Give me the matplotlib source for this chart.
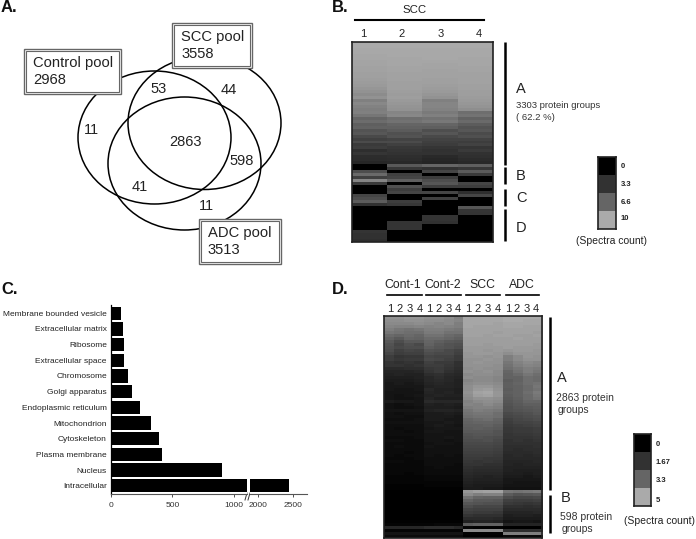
import numpy as np
import matplotlib
matplotlib.use('Agg')
import matplotlib.pyplot as plt
from matplotlib.colors import LinearSegmentedColormap
from matplotlib.patches import Ellipse, Rectangle

plt.rcParams['font.family'] = ['Liberation Sans', 'DejaVu Sans']

W, H = 696, 539

# panel A
venn_counts = ['11', '53', '44', '2863', '598', '41', '11']
pool_names = ['Control pool', 'SCC pool', 'ADC pool']
pool_totals = ['2968', '3558', '3513']

# panel B, spectra count per row (1 row = 3 px), columns 1-4
scc_rows = [
    [10.0, 10.0, 10.0, 10.0], [10.0, 10.0, 10.0, 10.0], [9.9, 9.9, 9.9, 9.9], [9.9, 9.9, 9.9, 9.9],
    [9.8, 9.9, 9.9, 9.9], [9.8, 9.8, 9.9, 9.8], [9.7, 9.8, 9.8, 9.8], [9.7, 9.8, 9.7, 9.8],
    [9.6, 9.7, 9.7, 9.7], [9.6, 9.7, 9.6, 9.7], [9.5, 9.6, 9.6, 9.6], [9.5, 9.6, 9.6, 9.6],
    [9.4, 9.6, 9.5, 9.6], [9.3, 9.5, 9.5, 9.6], [9.2, 9.5, 9.4, 9.5], [9.0, 9.5, 9.3, 9.5],
    [8.8, 9.4, 9.2, 9.4], [8.5, 9.3, 9.0, 9.4], [8.8, 9.4, 8.8, 9.3], [7.9, 9.2, 7.9, 9.2],
    [8.3, 9.1, 8.2, 9.1], [8.0, 8.9, 8.2, 8.9], [7.8, 8.8, 8.0, 8.6], [7.9, 8.2, 7.6, 7.0],
    [7.4, 8.3, 7.9, 7.3], [6.6, 7.0, 7.2, 6.4], [6.9, 7.2, 7.5, 6.8], [6.2, 6.6, 6.6, 6.0],
    [6.4, 6.3, 6.2, 5.4], [5.4, 5.9, 5.1, 5.7], [5.7, 5.2, 5.6, 4.9], [4.8, 5.4, 4.8, 5.2],
    [4.2, 4.4, 4.4, 4.4], [4.9, 4.9, 4.1, 4.0], [3.8, 4.2, 3.9, 4.3], [4.0, 3.7, 3.5, 3.5],
    [3.0, 3.5, 3.2, 3.8], [3.5, 3.3, 3.3, 3.2], [2.9, 3.0, 2.7, 3.1], [2.8, 2.9, 2.5, 2.8],
    [2.5, 2.6, 2.4, 2.6], [0.0, 5.8, 6.6, 6.2], [0.0, 3.6, 3.2, 3.6], [5.0, 0.0, 4.5, 5.9],
    [6.8, 4.2, 0.0, 3.8], [4.2, 4.5, 4.0, 0.0], [8.2, 6.2, 5.0, 0.0], [3.8, 0.0, 5.6, 4.5],
    [0.0, 5.2, 4.0, 4.0], [0.0, 4.0, 0.0, 0.0], [0.0, 4.5, 4.5, 3.0], [4.5, 0.0, 0.0, 4.5],
    [5.0, 0.0, 4.2, 0.0], [6.0, 4.0, 0.0, 0.0], [3.2, 3.6, 0.0, 0.0], [0.0, 0.0, 0.0, 5.6],
    [0.0, 0.0, 0.0, 3.5], [0.0, 0.0, 0.0, 3.4], [0.0, 0.0, 3.4, 0.0], [0.0, 0.0, 3.4, 0.0],
    [0.0, 3.4, 3.2, 0.0], [0.0, 3.4, 0.0, 0.0], [0.0, 3.4, 0.0, 0.0], [3.4, 0.0, 0.0, 0.0],
    [3.2, 0.0, 0.0, 0.0], [3.2, 0.0, 0.0, 0.0], [3.0, 0.0, 0.0, 0.0],
]
scc_columns = ['1', '2', '3', '4']
scc_levels = [0, 3.3, 6.6, 10]

# panel C
cell_parts = ['Membrane bounded vesicle', 'Extracellular matrix', 'Ribosome', 'Extracellular space',
              'Chromosome', 'Golgi apparatus', 'Endoplasmic reticulum', 'Mitochondrion',
              'Cytoskeleton', 'Plasma membrane', 'Nucleus', 'Intracellular']
part_counts = [84, 100, 108, 103, 135, 173, 236, 328, 390, 412, 902, 2450]

# panel D, spectra count per row (1 row = 3 px), Cont-1, Cont-2, SCC, ADC x 4
pool_groups = ['Cont-1', 'Cont-2', 'SCC', 'ADC']
pool_rows = [
    [4.4, 4.4, 4.5, 4.5, 4.4, 4.4, 4.3, 4.0, 4.9, 4.9, 4.9, 4.9, 5.0, 5.0, 5.0, 5.0],
    [4.3, 4.3, 4.4, 4.4, 4.3, 4.3, 4.2, 4.1, 4.9, 4.9, 4.9, 4.9, 5.0, 5.0, 4.9, 4.9],
    [4.2, 4.2, 4.2, 4.3, 4.2, 4.1, 4.2, 3.9, 4.9, 4.9, 4.9, 4.8, 4.9, 4.9, 4.9, 4.9],
    [4.1, 4.0, 4.0, 4.1, 4.0, 4.1, 4.0, 3.9, 4.9, 4.8, 4.8, 4.8, 4.9, 4.9, 4.8, 4.8],
    [3.9, 3.7, 3.6, 3.7, 3.9, 3.9, 3.8, 3.7, 4.8, 4.8, 4.8, 4.8, 4.8, 4.8, 4.8, 4.8],
    [3.7, 3.6, 3.5, 3.5, 3.8, 3.8, 3.6, 3.6, 4.8, 4.8, 4.8, 4.7, 4.8, 4.8, 4.8, 4.7],
    [3.4, 3.3, 3.4, 3.3, 3.6, 3.6, 3.4, 3.3, 4.8, 4.8, 4.7, 4.8, 4.8, 4.7, 4.7, 4.8],
    [3.2, 2.9, 3.3, 3.2, 3.4, 3.4, 3.3, 3.1, 4.7, 4.7, 4.7, 4.7, 4.7, 4.8, 4.7, 4.7],
    [2.9, 2.5, 2.9, 2.9, 3.3, 3.1, 2.9, 2.8, 4.7, 4.7, 4.7, 4.7, 4.7, 4.7, 4.7, 4.7],
    [2.7, 2.3, 2.6, 2.4, 3.2, 2.9, 2.7, 2.6, 4.7, 4.7, 4.6, 4.7, 4.7, 4.7, 4.7, 4.6],
    [2.6, 2.4, 2.5, 2.5, 3.0, 2.8, 2.7, 2.5, 4.6, 4.6, 4.6, 4.6, 4.7, 4.6, 4.6, 4.6],
    [2.5, 2.1, 2.3, 2.2, 2.7, 2.6, 2.4, 2.2, 4.6, 4.6, 4.5, 4.6, 4.5, 4.6, 4.6, 4.5],
    [2.3, 2.0, 2.1, 2.1, 2.5, 2.4, 2.4, 2.1, 4.5, 4.6, 4.6, 4.5, 4.3, 4.5, 4.5, 4.5],
    [2.0, 1.7, 1.8, 1.8, 2.3, 2.2, 2.2, 1.9, 4.5, 4.5, 4.4, 4.5, 3.9, 4.2, 4.5, 4.4],
    [2.0, 1.8, 1.9, 1.9, 2.4, 2.3, 2.1, 1.9, 4.4, 4.4, 4.5, 4.4, 3.9, 4.2, 4.4, 4.4],
    [1.7, 1.6, 1.7, 1.6, 2.1, 1.9, 1.9, 1.6, 4.4, 4.5, 4.4, 4.4, 3.7, 4.0, 4.2, 4.1],
    [1.7, 1.7, 1.6, 1.7, 2.0, 2.0, 1.8, 1.6, 4.4, 4.4, 4.4, 4.3, 3.6, 3.9, 4.1, 4.0],
    [1.4, 1.4, 1.5, 1.5, 1.8, 1.9, 1.7, 1.5, 4.3, 4.4, 4.3, 4.3, 3.5, 3.7, 3.9, 3.8],
    [1.2, 1.2, 1.2, 1.3, 1.7, 1.9, 1.6, 1.4, 4.4, 4.3, 4.4, 4.2, 3.3, 3.6, 3.9, 3.7],
    [1.1, 1.2, 1.1, 1.1, 1.5, 1.6, 1.4, 1.3, 4.2, 4.3, 4.3, 4.2, 3.2, 3.4, 3.7, 3.5],
    [1.0, 1.0, 1.0, 1.1, 1.3, 1.5, 1.3, 1.2, 4.3, 4.2, 4.2, 4.1, 3.2, 3.2, 3.5, 3.4],
    [0.9, 0.9, 0.9, 1.0, 1.3, 1.4, 1.3, 1.1, 4.1, 4.2, 4.2, 4.1, 3.0, 3.2, 3.5, 3.4],
    [0.8, 0.9, 0.8, 0.9, 1.2, 1.3, 1.2, 1.1, 4.2, 4.3, 4.3, 4.2, 3.1, 3.3, 3.5, 3.6],
    [0.8, 0.8, 0.8, 0.8, 1.1, 1.2, 1.2, 1.1, 4.3, 4.5, 4.5, 4.3, 3.1, 3.2, 3.4, 3.7],
    [0.8, 0.7, 0.7, 0.8, 1.3, 1.1, 1.1, 1.0, 4.3, 4.6, 4.7, 4.4, 3.0, 3.2, 3.4, 3.6],
    [0.7, 0.7, 0.7, 0.7, 1.2, 1.1, 1.2, 1.0, 4.4, 4.8, 4.9, 4.5, 3.1, 3.2, 3.5, 3.8],
    [0.7, 0.6, 0.7, 0.8, 1.1, 1.2, 1.1, 1.1, 4.3, 4.7, 4.8, 4.5, 3.0, 3.2, 3.4, 3.7],
    [0.7, 0.6, 0.6, 0.7, 1.2, 1.0, 1.0, 1.0, 4.2, 4.4, 4.4, 4.3, 2.9, 3.1, 3.4, 3.6],
    [0.9, 0.8, 0.8, 0.7, 1.4, 1.3, 1.3, 1.3, 4.0, 4.2, 4.3, 4.2, 2.8, 3.0, 3.3, 3.3],
    [0.6, 0.5, 0.6, 0.7, 1.1, 1.0, 1.1, 1.0, 4.1, 4.0, 4.2, 4.0, 2.7, 2.9, 3.1, 3.1],
    [0.6, 0.5, 0.5, 0.6, 1.0, 1.0, 1.0, 0.9, 3.9, 4.0, 4.0, 3.9, 2.6, 2.8, 2.9, 3.0],
    [0.7, 0.7, 0.7, 0.7, 1.1, 1.2, 1.2, 1.1, 3.7, 3.9, 3.8, 3.7, 2.6, 2.7, 2.8, 2.9],
    [0.6, 0.5, 0.6, 0.6, 0.9, 0.9, 1.0, 0.9, 3.6, 3.7, 3.7, 3.5, 2.4, 2.5, 2.6, 2.8],
    [0.6, 0.6, 0.5, 0.5, 0.9, 0.9, 0.9, 0.8, 3.5, 3.6, 3.6, 3.5, 2.3, 2.4, 2.5, 2.6],
    [0.5, 0.5, 0.5, 0.6, 0.9, 0.9, 0.8, 0.8, 3.3, 3.4, 3.5, 3.3, 2.1, 2.3, 2.4, 2.5],
    [0.6, 0.6, 0.6, 0.6, 0.8, 0.8, 0.9, 0.8, 3.2, 3.3, 3.3, 3.2, 2.0, 2.2, 2.2, 2.3],
    [0.5, 0.5, 0.5, 0.5, 0.8, 0.9, 0.8, 0.7, 3.1, 3.1, 3.2, 3.0, 1.9, 2.0, 2.1, 2.2],
    [0.5, 0.4, 0.5, 0.5, 0.7, 0.8, 0.8, 0.8, 3.0, 3.1, 3.0, 2.9, 1.8, 1.9, 1.9, 2.0],
    [0.5, 0.5, 0.4, 0.5, 0.8, 0.8, 0.7, 0.7, 2.9, 2.9, 2.9, 2.7, 1.8, 1.9, 1.9, 2.0],
    [0.5, 0.5, 0.5, 0.5, 0.7, 0.7, 0.7, 0.7, 2.7, 2.8, 2.8, 2.7, 1.7, 1.8, 1.8, 1.9],
    [0.4, 0.4, 0.4, 0.5, 0.7, 0.7, 0.8, 0.7, 2.6, 2.7, 2.6, 2.5, 1.7, 1.7, 1.7, 1.8],
    [0.5, 0.5, 0.4, 0.4, 0.7, 0.7, 0.6, 0.7, 2.5, 2.5, 2.6, 2.4, 1.6, 1.7, 1.6, 1.7],
    [0.4, 0.4, 0.4, 0.4, 0.6, 0.7, 0.7, 0.6, 2.4, 2.4, 2.4, 2.3, 1.6, 1.6, 1.6, 1.6],
    [0.4, 0.5, 0.4, 0.4, 0.7, 0.6, 0.6, 0.6, 2.3, 2.3, 2.3, 2.2, 1.5, 1.5, 1.5, 1.6],
    [0.4, 0.4, 0.4, 0.4, 0.6, 0.6, 0.6, 0.6, 2.2, 2.2, 2.2, 2.1, 1.5, 1.4, 1.5, 1.5],
    [0.4, 0.4, 0.3, 0.4, 0.6, 0.6, 0.6, 0.6, 2.1, 2.1, 2.1, 2.0, 1.4, 1.4, 1.4, 1.5],
    [0.4, 0.3, 0.4, 0.4, 0.6, 0.5, 0.6, 0.5, 2.0, 2.0, 2.0, 1.9, 1.3, 1.4, 1.3, 1.4],
    [0.3, 0.3, 0.3, 0.4, 0.5, 0.5, 0.5, 0.5, 1.9, 1.9, 1.8, 1.8, 1.3, 1.3, 1.3, 1.3],
    [0.4, 0.4, 0.3, 0.3, 0.5, 0.5, 0.5, 0.5, 1.8, 1.7, 1.8, 1.7, 1.2, 1.2, 1.2, 1.3],
    [0.3, 0.3, 0.3, 0.3, 0.5, 0.5, 0.5, 0.4, 1.7, 1.7, 1.6, 1.6, 1.2, 1.1, 1.2, 1.2],
    [0.3, 0.3, 0.3, 0.3, 0.4, 0.5, 0.4, 0.4, 1.6, 1.5, 1.5, 1.5, 1.1, 1.1, 1.1, 1.1],
    [0.3, 0.3, 0.3, 0.3, 0.4, 0.4, 0.4, 0.4, 1.5, 1.4, 1.4, 1.4, 1.1, 1.0, 1.0, 1.0],
    [0.3, 0.3, 0.2, 0.3, 0.4, 0.4, 0.4, 0.4, 1.4, 1.3, 1.3, 1.3, 1.0, 1.0, 0.9, 1.0],
    [0.2, 0.2, 0.2, 0.2, 0.3, 0.3, 0.3, 0.3, 1.3, 1.2, 1.1, 1.2, 0.9, 0.9, 0.8, 0.9],
    [0.2, 0.2, 0.2, 0.2, 0.3, 0.3, 0.3, 0.3, 1.2, 1.1, 1.1, 1.1, 0.8, 0.8, 0.8, 0.8],
    [0.2, 0.2, 0.2, 0.2, 0.2, 0.2, 0.2, 0.2, 1.1, 1.0, 1.0, 1.0, 0.8, 0.7, 0.7, 0.7],
    [0.1, 0.1, 0.1, 0.1, 0.2, 0.2, 0.2, 0.2, 1.0, 0.9, 0.9, 0.9, 0.7, 0.7, 0.7, 0.7],
    [0.1, 0.1, 0.1, 0.1, 0.1, 0.1, 0.1, 0.1, 0.9, 0.9, 0.8, 0.8, 0.6, 0.6, 0.6, 0.6],
    [0.0, 0.0, 0.0, 0.0, 0.0, 0.0, 0.0, 0.0, 4.5, 4.7, 4.8, 4.8, 3.7, 3.6, 3.7, 3.8],
    [0.0, 0.0, 0.0, 0.0, 0.0, 0.0, 0.0, 0.0, 4.2, 3.9, 4.0, 4.0, 3.0, 2.7, 2.8, 2.9],
    [0.0, 0.0, 0.0, 0.0, 0.0, 0.0, 0.0, 0.0, 3.6, 3.3, 3.2, 3.2, 2.5, 2.3, 2.3, 2.4],
    [0.0, 0.0, 0.0, 0.0, 0.0, 0.0, 0.0, 0.0, 3.2, 2.9, 2.9, 2.8, 2.1, 2.0, 2.0, 2.1],
    [0.0, 0.0, 0.0, 0.0, 0.0, 0.0, 0.0, 0.0, 2.8, 2.7, 2.6, 2.6, 1.9, 1.8, 1.7, 1.8],
    [0.0, 0.0, 0.0, 0.0, 0.0, 0.0, 0.0, 0.0, 2.5, 2.3, 2.3, 2.3, 1.6, 1.6, 1.5, 1.6],
    [0.0, 0.0, 0.0, 0.0, 0.0, 0.0, 0.0, 0.0, 2.2, 2.1, 2.1, 2.1, 1.4, 1.4, 1.4, 1.4],
    [0.0, 0.0, 0.0, 0.0, 0.0, 0.0, 0.0, 0.0, 2.0, 1.9, 1.9, 1.8, 1.2, 1.2, 1.2, 1.3],
    [0.0, 0.0, 0.0, 0.0, 0.0, 0.0, 0.0, 0.0, 1.7, 1.6, 1.6, 1.6, 1.0, 1.1, 1.1, 1.0],
    [0.0, 0.0, 0.0, 0.0, 0.0, 0.0, 0.0, 0.0, 1.4, 1.4, 1.4, 1.3, 0.9, 0.9, 0.9, 0.9],
    [0.1, 0.1, 0.1, 0.1, 0.1, 0.1, 0.1, 0.1, 1.1, 1.2, 1.2, 1.1, 0.7, 0.8, 0.8, 0.7],
    [0.2, 0.2, 0.2, 0.2, 0.2, 0.3, 0.3, 0.3, 3.0, 3.2, 3.2, 3.2, 1.2, 1.2, 1.2, 1.2],
    [1.3, 1.3, 1.3, 1.3, 1.5, 1.5, 1.5, 1.3, 0.2, 0.1, 0.1, 0.1, 0.0, 0.0, 0.0, 0.0],
    [0.2, 0.2, 0.2, 0.2, 0.2, 0.2, 0.2, 0.2, 4.2, 4.2, 4.2, 4.2, 1.5, 1.5, 1.5, 1.5],
    [0.7, 0.7, 0.7, 0.7, 0.7, 0.7, 0.7, 0.7, 0.1, 0.1, 0.1, 0.1, 3.9, 3.9, 3.9, 3.9],
    [0.4, 0.4, 0.4, 0.4, 0.4, 0.4, 0.4, 0.4, 0.0, 0.0, 0.0, 0.0, 0.3, 0.3, 0.3, 0.3],
]
pool_levels = [0, 1.67, 3.3, 5]


def px_axes(x0, y0, x1, y1):
    # axes given in image pixels, y going down
    return fig.add_axes([x0 / W, 1 - y1 / H, (x1 - x0) / W, (y1 - y0) / H])


def gray_map(levels):
    top = levels[-1]
    nodes = [(levels[0] / top, '#000000'), (levels[1] / top, '#333333'),
             (levels[2] / top, '#666666'), (1.0, '#aaaaaa')]
    return LinearSegmentedColormap.from_list('spectra', nodes)


def heat(rows, levels, box):
    ax = px_axes(*box)
    ax.imshow(np.array(rows), cmap=gray_map(levels), vmin=0, vmax=levels[-1], aspect='auto',
              interpolation='nearest')
    ax.set_xticks([])
    ax.set_yticks([])
    for s in ax.spines.values():
        s.set_linewidth(1.2)
        s.set_color('#222222')


fig = plt.figure(figsize=(W / 100, H / 100), dpi=100)

# everything that is only drawing goes on this one, in pixels
bg = fig.add_axes([0, 0, 1, 1])
bg.set_xlim(0, W)
bg.set_ylim(H, 0)
bg.axis('off')

for txt, x, y in [('A.', 1, 8), ('B.', 332, 8), ('C.', 1, 289), ('D.', 332, 289)]:
    bg.text(x, y, txt, fontsize=12, fontweight='bold', va='center', color='#111111')

# ---- A ----
for cx, cy in [(154.5, 137.5), (204.5, 123), (184.5, 163.5)]:
    bg.add_patch(Ellipse((cx, cy), 153, 133, fill=False, ec='black', lw=1.1))

venn_spots = [(91, 130), (159, 89), (229, 90), (185, 142), (242, 161), (140, 187), (206, 206)]
for txt, (x, y) in zip(venn_counts, venn_spots):
    bg.text(x, y, txt, fontsize=10.5, ha='center', va='center', color='#222222')

box_spots = [(24, 49, 97, 45), (172, 23, 80, 45), (199, 219, 82, 45)]
for name, total, (x, y, w, h) in zip(pool_names, pool_totals, box_spots):
    bg.add_patch(Rectangle((x, y), w, h, fc='white', ec='#666666', lw=1.0, zorder=3))
    bg.add_patch(Rectangle((x + 2, y + 2), w - 4, h - 4, fc='white', ec='#666666', lw=0.8, zorder=3))
    bg.text(x + 9, y + 14, name, fontsize=10.6, va='center', color='#222222', zorder=4)
    bg.text(x + 9, y + 31, total, fontsize=10.6, va='center', color='#222222', zorder=4)

# ---- B ----
heat(scc_rows, scc_levels, (352, 42, 493, 242))
bg.text(415, 10, 'SCC', fontsize=8.2, ha='center', va='center', color='#222222')
bg.plot([355, 484], [20, 20], color='black', lw=1.5)
for txt, x in zip(scc_columns, [363, 402, 441, 479]):
    bg.text(x, 34, txt, fontsize=8, ha='center', va='center', color='#222222')
for y0, y1 in [(42, 165), (167, 184), (189, 206), (209, 241)]:
    bg.plot([505, 505], [y0, y1], color='black', lw=1.8, solid_capstyle='butt')
for txt, y in [('A', 89), ('B', 176), ('C', 198), ('D', 228)]:
    bg.text(516, y, txt, fontsize=10.5, va='center', color='#222222')
bg.text(516, 105, '3303 protein groups', fontsize=6.8, va='center', color='#333333')
bg.text(516, 117, '( 62.2 %)', fontsize=6.8, va='center', color='#333333')

heat(np.array(scc_levels)[:, None], scc_levels, (598, 157, 616, 229))
for lev, y in zip(scc_levels, [166, 184, 202, 219]):
    bg.text(621, y, str(lev), fontsize=5.5, fontweight='bold', va='center', color='#222222')
bg.text(612, 241, '(Spectra count)', fontsize=7.5, ha='center', va='center', color='#222222')

# ---- C ----
ypos = np.arange(len(cell_parts))
ax1 = px_axes(111, 305, 247, 494)
ax2 = px_axes(250, 305, 307, 494)
for ax in (ax1, ax2):
    ax.barh(ypos, part_counts, height=0.85, color='black')
    ax.set_ylim(len(cell_parts) - 0.47, -0.53)
    ax.spines['top'].set_visible(False)
    ax.spines['right'].set_visible(False)
    ax.spines['bottom'].set_color('#555555')
    ax.tick_params(axis='x', length=2, width=0.6, labelsize=6, pad=4, colors='#333333')
ax1.set_xlim(0, 1106)
ax1.set_xticks([0, 500, 1000])
ax1.set_yticks(ypos, cell_parts)
ax1.tick_params(axis='y', length=0, labelsize=6, pad=3, labelcolor='#222222')
ax1.spines['left'].set_linewidth(0.9)
ax2.set_xlim(1886, 2700)
ax2.set_xticks([2000, 2500])
ax2.set_yticks([])
ax2.spines['left'].set_visible(False)
bg.plot([245, 247], [500, 493], color='#333333', lw=0.7)
bg.plot([248, 250], [500, 493], color='#333333', lw=0.7)

# ---- D ----
heat(pool_rows, pool_levels, (383.5, 316, 541.7, 538))
group_spots = [(403, 387, 422), (443, 426, 461), (482, 466, 500), (522, 506, 539)]
for name, (xc, x0, x1) in zip(pool_groups, group_spots):
    bg.text(xc, 285, name, fontsize=8.8, ha='center', va='center', color='#222222')
    bg.plot([x0, x1], [295, 295], color='black', lw=1.2)
num_x = [390, 400, 410, 420, 429, 439, 449, 458, 468, 478, 488, 498, 508, 517, 527, 536]
for i, x in enumerate(num_x):
    bg.text(x, 309, str(i % 4 + 1), fontsize=8, ha='center', va='center', color='#222222')
bg.plot([550, 550], [317, 490], color='black', lw=1.8, solid_capstyle='butt')
bg.plot([550, 550], [495, 533], color='black', lw=1.8, solid_capstyle='butt')
bg.text(557, 378, 'A', fontsize=10.5, va='center', color='#222222')
bg.text(556, 398, '2863 protein', fontsize=7.5, va='center', color='#333333')
bg.text(558, 410, 'groups', fontsize=7.5, va='center', color='#333333')
bg.text(561, 498, 'B', fontsize=10.5, va='center', color='#222222')
bg.text(560, 517, '598 protein', fontsize=7.5, va='center', color='#333333')
bg.text(562, 529, 'groups', fontsize=7.5, va='center', color='#333333')

heat(np.array(pool_levels)[:, None], pool_levels, (634, 434, 651, 506))
for lev, y in zip(pool_levels, [444, 463, 481, 500]):
    bg.text(656, y, str(lev), fontsize=5.5, fontweight='bold', va='center', color='#222222')
bg.text(660, 521, '(Spectra count)', fontsize=7.5, ha='center', va='center', color='#222222')

fig.savefig('out.png', dpi=100)
